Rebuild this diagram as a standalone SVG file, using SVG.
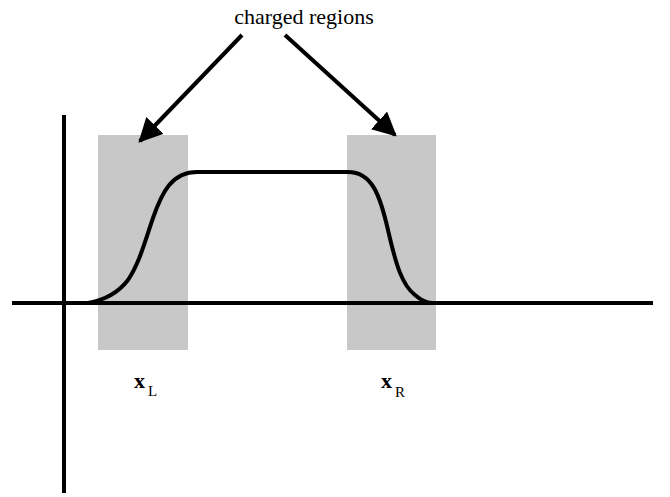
<svg xmlns="http://www.w3.org/2000/svg" width="670" height="497" viewBox="0 0 670 497">
<style>
.region{fill:#c8c8c8;stroke:none}
.axis{stroke:#000;stroke-width:4;fill:none}
.curve{stroke:#000;stroke-width:4;fill:none;stroke-linecap:round;stroke-linejoin:round}
.arrow{stroke:#000;stroke-width:4;fill:none}
text{font-family:"Liberation Serif","Times New Roman",serif;fill:#000}
.lbl{font-size:22px;font-weight:bold}
.sub{font-size:15px}
</style>
<defs>
<marker id="ah" viewBox="0 0 10 10" refX="9" refY="5" markerWidth="6" markerHeight="6" orient="auto" markerUnits="strokeWidth">
<path d="M0,0 L10,5 L0,10 z" fill="#000"/>
</marker>
</defs>
<g id="region-left"><rect class="region" x="98" y="135" width="90" height="215"/></g>
<g id="region-right"><rect class="region" x="347" y="135" width="89" height="215"/></g>
<g id="axes">
<line class="axis" x1="12" y1="303" x2="653" y2="303"/>
<line class="axis" x1="64" y1="115" x2="64" y2="493"/>
</g>
<g id="profile">
<path class="curve" d="M88,303 C105,300 118,293 128,280 C140,262 146,238 153,218 C162,192 172,172 197,172 L348,172 C372,172 380,195 388,230 C396,265 402,285 415,295 C422,301 428,303 432,303"/>
</g>
<g id="connectors">
<line class="arrow" x1="242" y1="35" x2="140" y2="141" marker-end="url(#ah)"/>
<line class="arrow" x1="285" y1="35" x2="395" y2="135" marker-end="url(#ah)"/>
</g>
<g id="title"><text x="304" y="24" font-size="22" text-anchor="middle">charged regions</text></g>
<g id="label-left"><text class="lbl" x="134" y="388">x</text><text class="sub" x="148" y="396">L</text></g>
<g id="label-right"><text class="lbl" x="381" y="388">x</text><text class="sub" x="395" y="397">R</text></g>
</svg>
